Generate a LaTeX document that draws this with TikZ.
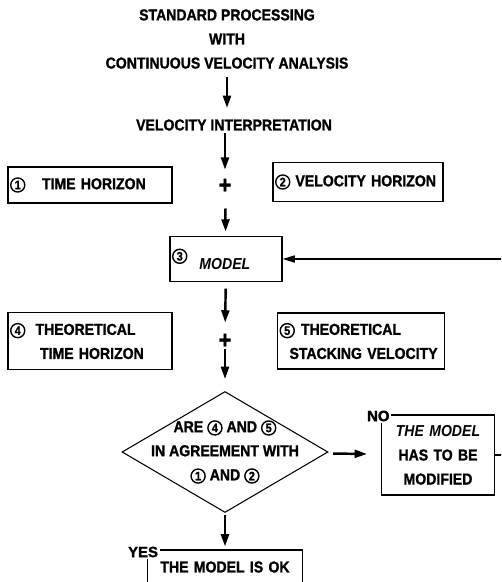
\documentclass[tikz,border=0pt]{standalone}
\usepackage{fontspec}
\setmainfont{Liberation Sans}[FakeStretch=0.89,BoldFeatures={FakeBold=1.2}]
\newfontfamily\widefont{Liberation Sans}[BoldFeatures={FakeBold=1.5}]
\usetikzlibrary{shapes.geometric,arrows.meta}
\newcommand{\capsfont}{\fontsize{9}{13.7}\selectfont\bfseries}
\newcommand{\cnum}[1]{\tikz[baseline=(n.base)]\node[draw,circle,line width=0.8pt,inner sep=0pt,minimum size=8pt,font=\fontsize{7}{7}\selectfont\bfseries] (n) {#1};}
\tikzset{
  box/.style={draw,line width=0.6pt,inner xsep=0.04cm,inner ysep=0pt,align=left},
  flow/.style={line width=1.4pt,-{Triangle[length=7pt,width=4.5pt]}},
  back/.style={line width=0.9pt,-{Triangle[length=7pt,width=4pt]}},
  plus/.style={inner sep=0pt,font=\fontsize{14}{14}\selectfont\bfseries},
  tag/.style={fill=white,inner sep=1pt,anchor=west,font=\widefont\fontsize{8.5}{8.5}\selectfont\bfseries}
}

\begin{document}
\begin{tikzpicture}[x=0.02cm,y=-0.02cm,font=\capsfont]
\useasboundingbox (0,0) rectangle (501,582);
\clip (0,0) rectangle (501,582);

% Processing and interpretation
\node[align=center,inner sep=0pt] (proc) at (227,39) {STANDARD PROCESSING\\WITH\\CONTINUOUS VELOCITY ANALYSIS};
\node[inner sep=0pt] (interp) at (234,125) {VELOCITY INTERPRETATION};
\draw[flow,shorten <=4.8pt,shorten >=6.3pt] (proc) -- (proc |- interp.north);

% Horizons 1 and 2
\node[box,text width=3.2cm,minimum height=0.72cm] (time) at (90,185) {\cnum{1}\hspace{0.33cm}TIME HORIZON};
\node[box,text width=3.32cm,minimum height=0.78cm] (velo) at (358,182) {\cnum{2}\hspace{0.1cm}VELOCITY HORIZON};
\node[plus] (plusA) at (225,186) {+};
\draw[flow,shorten <=1.4pt,shorten >=5pt] (interp.south -| plusA) -- (plusA);

% Model
\node[box,text width=2.16cm,minimum height=0.9cm] (model) at (226,259) {\raisebox{5pt}{\cnum{3}}\hspace{0.24cm}\textit{MODEL}};
\draw[flow,shorten <=8.5pt,shorten >=2.5pt] (plusA) -- (model);

% Theoretical horizons 4 and 5
\node[box,text width=3.2cm,minimum height=1.14cm] (ttime) at (90,341) {\cnum{4}\hspace{0.2cm}THEORETICAL\\\hspace*{0.6cm}TIME HORIZON};
\node[box,text width=3.26cm,minimum height=1.12cm] (tvelo) at (361,341) {\cnum{5}\hspace{0.12cm}THEORETICAL\\\hspace*{0.2cm}STACKING VELOCITY};
\node[plus] (plusB) at (225,341) {+};
\draw[flow,shorten <=3.7pt,shorten >=6.2pt] (model) -- (plusB);

% Check
\node[diamond,draw,line width=0.6pt,inner sep=-2cm,minimum width=4.12cm,minimum height=2.42cm,align=center] (check) at (225,452)
  {ARE \cnum{4} AND \cnum{5}\\IN AGREEMENT WITH\\\cnum{1} AND \cnum{2}};
\draw[flow,shorten <=0pt,shorten >=6.8pt] (plusB) -- (check);

% Outcomes
\node[box,align=center,text width=2.18cm,minimum height=1.6cm] (modify) at (438,455) {\textit{THE MODEL}\\HAS TO BE\\MODIFIED};
\node[tag] (no) at (365,416) {NO};
\draw[flow,shorten <=4pt,shorten >=8pt] (check) -- (modify);
\draw[back] (modify.east) -- ++(20,0) |- (model.east);

\node[box,align=center,text width=3.02cm,minimum height=0.68cm] (ok) at (225,567) {THE MODEL IS OK};
\node[tag] (yes) at (126,552) {YES};
\draw[flow,shorten <=1.1pt,shorten >=1.7pt] (check) -- (ok);
\end{tikzpicture}
\end{document}
